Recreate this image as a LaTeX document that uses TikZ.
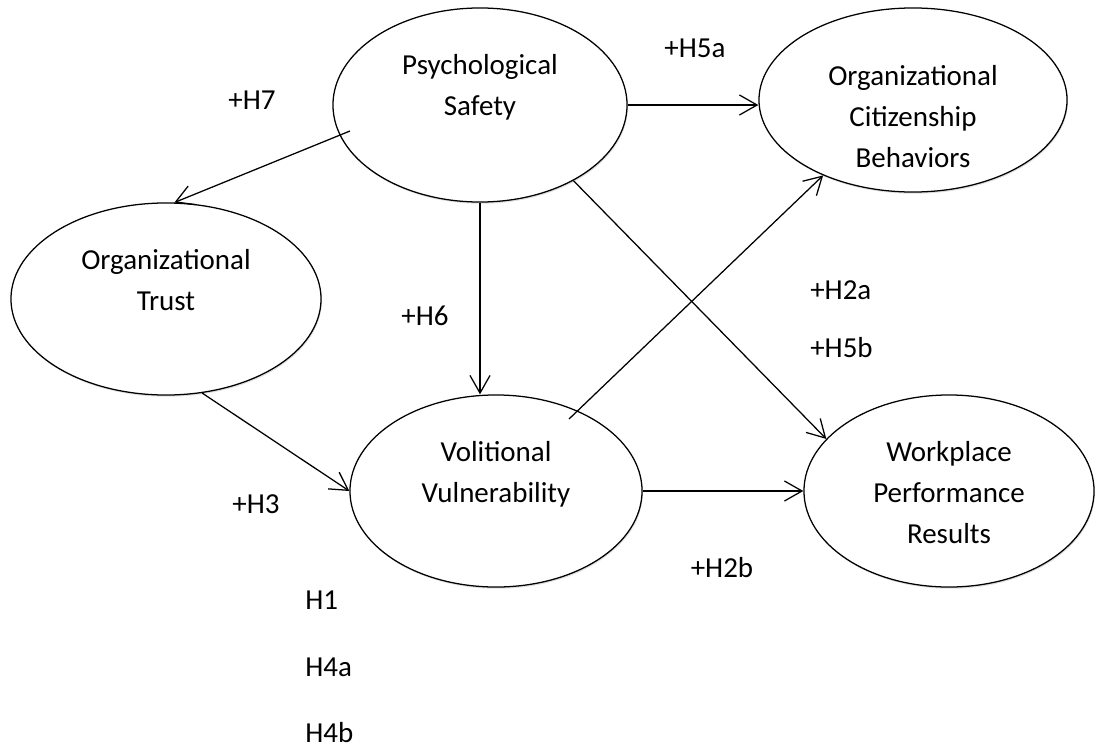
\documentclass[tikz,border=0pt]{standalone}
\usepackage{fontspec}
\setmainfont{Carlito}
\usetikzlibrary{positioning,arrows.meta,shapes.geometric,shadows}

\tikzset{
  construct/.style={draw, ellipse, fill=white, line width=0.9pt,
    drop shadow={shadow xshift=0.6pt, shadow yshift=-1.2pt, opacity=0.25}},
  ctext/.style={align=center, inner sep=0pt, font=\fontsize{20.6pt}{29.2pt}\selectfont},
  hyp/.style={inner sep=0pt, font=\fontsize{20.6pt}{24pt}\selectfont},
  link/.style={line width=0.9pt, -{Straight Barb[length=4.4mm,width=5mm]}}
}

\begin{document}
\begin{tikzpicture}[x=0.025cm, y=-0.025cm]
  \useasboundingbox (0,0) rectangle (1096,749);

  % 楕円
  \node[construct, minimum width=7.35cm, minimum height=4.85cm] (ps) at (480,105) {};
  \node[ctext, below=1.17cm of ps.north] (ps-text) {Psychological\\Safety};

  \node[construct, minimum width=7.7cm, minimum height=4.6cm] (ocb) at (913,100) {};
  \node[ctext, below=1.44cm of ocb.north] (ocb-text) {Organizational\\Citizenship\\Behaviors};

  \node[construct, minimum width=7.75cm, minimum height=4.8cm] (trust) at (166,299) {};
  \node[ctext, below=1.17cm of trust.north] (trust-text) {Organizational\\Trust};

  \node[construct, minimum width=7.3cm, minimum height=4.8cm] (vv) at (496,491) {};
  \node[ctext, below=1.17cm of vv.north] (vv-text) {Volitional\\Vulnerability};

  \node[construct, minimum width=7.25cm, minimum height=4.8cm] (wpr) at (949,491) {};
  \node[ctext, below=1.17cm of wpr.north] (wpr-text) {Workplace\\Performance\\Results};

  % 矢印
  \draw[link] ([shift={(-130,26)}]ps.center) -- (trust.85);
  \draw[link] (ps.east) -- (ps.east -| ocb.west);
  \draw[link] (ps.south) -- (ps.south |- vv.north);
  \draw[link] (ps.-39) -- (wpr.157);
  \draw[link] ([shift={(73,-72)}]vv.center) -- (ocb.220);
  \draw[link] (trust.-69) -- (vv.west);
  \draw[link] (vv.east) -- (wpr.west);

  % ラベル
  \node[hyp] (h7) at (252,100) {+H7};
  \node[hyp] (h5a) at (695,48) {+H5a};
  \node[hyp] (h6) at (425,316) {+H6};
  \node[hyp, anchor=west] (h2a) at (810,290) {+H2a};
  \node[hyp, anchor=west] (h5b) at (810,348) {+H5b};
  \node[hyp] (h3) at (256,504) {+H3};
  \node[hyp] (h2b) at (722,568) {+H2b};

  \foreach \t/\y [count=\i] in {H1/600,H4a/667,H4b/733} {
    \node[hyp, anchor=west] (hl\i) at (305,\y) {\t};
  }
\end{tikzpicture}
\end{document}
